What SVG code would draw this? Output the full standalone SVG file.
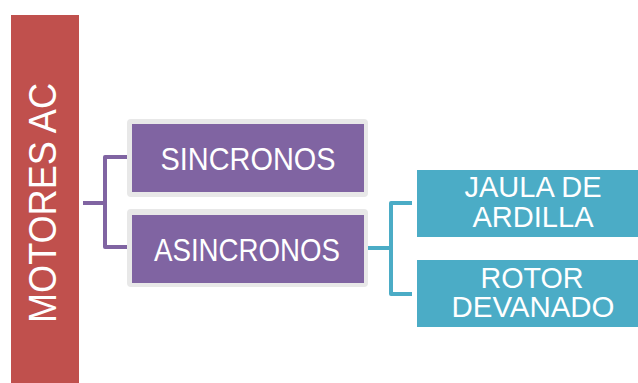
<svg xmlns="http://www.w3.org/2000/svg" width="638" height="383" viewBox="0 0 638 383">
  <style>
    .lbl { font-family: "Liberation Sans", Arial, sans-serif; fill: #FFFFFF; text-anchor: middle; }
    .purple { fill: #8064A2; }
    .teal { fill: #4BACC6; }
    .frame { fill: #E8E8E8; }
    .link-p { fill: none; stroke: #8064A2; stroke-width: 4; stroke-linejoin: round; }
    .link-t { fill: none; stroke: #4BACC6; stroke-width: 4; stroke-linejoin: round; }
  </style>

  <rect width="638" height="383" fill="#FFFFFF"/>

  <!-- connectors -->
  <g id="connectors">
    <path class="link-p" d="M83 203 H105 M128 157 H105 V247 H128"/>
    <path class="link-t" d="M368 248 H391 M412 203 H391 V294 H412"/>
  </g>

  <!-- root -->
  <g id="node-motores">
    <rect x="11" y="15" width="68" height="368" fill="#C0504D"/>
    <text class="lbl" font-size="38" transform="translate(56 203) rotate(-90)" textLength="240" lengthAdjust="spacingAndGlyphs">MOTORES AC</text>
  </g>

  <g id="node-sincronos">
    <rect class="frame" x="127" y="119" width="241" height="78" rx="4"/>
    <rect class="purple" x="132" y="124" width="232" height="68"/>
    <text class="lbl" x="248" y="170" font-size="31" textLength="175" lengthAdjust="spacingAndGlyphs">SINCRONOS</text>
  </g>

  <g id="node-asincronos">
    <rect class="frame" x="127" y="209" width="241" height="78" rx="4"/>
    <rect class="purple" x="132" y="215" width="232" height="68"/>
    <text class="lbl" x="247" y="261" font-size="31" textLength="186" lengthAdjust="spacingAndGlyphs">ASINCRONOS</text>
  </g>

  <g id="node-jaula">
    <rect class="teal" x="417" y="170" width="230" height="67"/>
    <text class="lbl" x="533" y="197" font-size="30" textLength="137" lengthAdjust="spacingAndGlyphs">JAULA DE</text>
    <text class="lbl" x="533" y="227" font-size="30" textLength="121" lengthAdjust="spacingAndGlyphs">ARDILLA</text>
  </g>

  <g id="node-rotor">
    <rect class="teal" x="417" y="260" width="230" height="67"/>
    <text class="lbl" x="532" y="288" font-size="30" textLength="103" lengthAdjust="spacingAndGlyphs">ROTOR</text>
    <text class="lbl" x="533" y="317" font-size="30" textLength="163" lengthAdjust="spacingAndGlyphs">DEVANADO</text>
  </g>
</svg>
